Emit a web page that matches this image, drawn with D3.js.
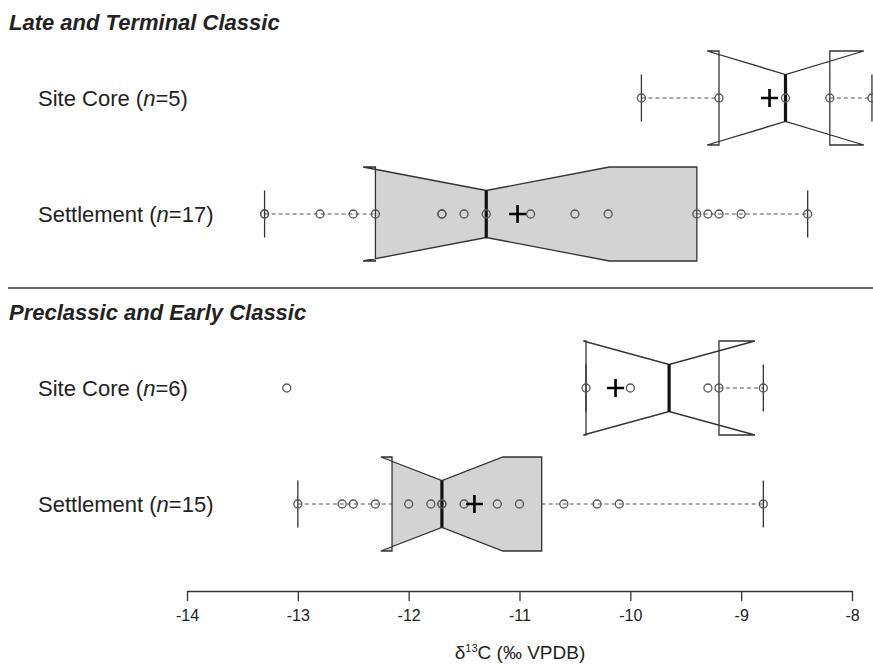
<!DOCTYPE html>
<html>
<head>
<meta charset="utf-8">
<script src="https://cdn.jsdelivr.net/npm/d3@7"></script>
<style>
  body { margin: 0; background: #fff; }
  text { font-family: "Liberation Sans", Arial, sans-serif; fill: #222; }
</style>
</head>
<body>
<div id="chart"></div>
<script>
// data (d13C, permil VPDB)
var groupTitles = ["Late and Terminal Classic", "Preclassic and Early Classic"];
var rowNames = ["Site Core", "Settlement"];
var ltcCore = [-9.9, -9.2, -8.6, -8.2, -7.82];
var ltcSettlement = [-13.3, -13.3, -12.8, -12.5, -12.3, -11.7, -11.7, -11.5, -11.3,
                     -10.9, -10.5, -10.2, -9.4, -9.3, -9.2, -9.0, -8.4];
var pceCore = [-13.1, -10.4, -10.0, -9.3, -9.2, -8.8];
var pceSettlement = [-13.0, -12.6, -12.5, -12.3, -12.0, -11.8, -11.7, -11.7, -11.5,
                     -11.2, -11.0, -10.6, -10.3, -10.1, -8.8];
var xTicks = [-14, -13, -12, -11, -10, -9, -8];

var groupData = [[ltcCore, ltcSettlement], [pceCore, pceSettlement]];

//set up SVG
var svgWidth = 873;
var svgHeight = 664;

var svg = d3.select("#chart")
    .append("svg")
    .attr("width", svgWidth)
    .attr("height", svgHeight);

var xScale = d3.scaleLinear().domain([-14, -8]).range([187, 852]);
// row slots: two rows per group, a gap between the groups
var yScale = d3.scaleLinear().domain([0, 3.5]).range([98, 504]);
var boxHalf = 47;

// R style fivenum + notch + whiskers
function boxStats(vals) {
    var s = vals.slice().sort(d3.ascending);
    var n = s.length;
    var n4 = Math.floor((n + 3) / 2) / 2;
    var idx = [1, n4, (n + 1) / 2, n + 1 - n4, n];
    var fn = idx.map(function (d) {
        return 0.5 * (s[Math.floor(d) - 1] + s[Math.ceil(d) - 1]);
    });
    var iqr = fn[3] - fn[1];
    var lo = fn[1] - 1.5 * iqr, hi = fn[3] + 1.5 * iqr;
    var inside = s.filter(function (d) { return d >= lo && d <= hi; });
    return {
        q1: fn[1], med: fn[2], q3: fn[3],
        wlo: d3.min(inside), whi: d3.max(inside),
        c1: fn[2] - 1.58 * iqr / Math.sqrt(n),
        c2: fn[2] + 1.58 * iqr / Math.sqrt(n),
        mean: d3.mean(s), n: n
    };
}

var rows = [];
groupData.forEach(function (g, gi) {
    g.forEach(function (vals, ri) {
        rows.push({ name: rowNames[ri], vals: vals, slot: gi * 2.5 + ri,
                    filled: ri === 1, st: boxStats(vals) });
    });
});

// group titles and divider
svg.selectAll(".gtitle")
    .data(groupTitles)
    .enter()
    .append("text")
    .attr("x", 9)
    .attr("y", function (d, i) { return i === 0 ? 30 : 320; })
    .style("font-size", "22px")
    .style("font-weight", "bold")
    .style("font-style", "italic")
    .text(function (d) { return d; });

svg.append("line")
    .attr("x1", 8).attr("x2", 873)
    .attr("y1", 288).attr("y2", 288)
    .attr("stroke", "#333").attr("stroke-width", 1.6);

var rowG = svg.selectAll(".row")
    .data(rows)
    .enter()
    .append("g")
    .attr("transform", function (d) { return "translate(0," + yScale(d.slot) + ")"; });

// row labels
var lab = rowG.append("text")
    .attr("x", 38)
    .attr("dy", "0.35em")
    .style("font-size", "22px");
lab.append("tspan").text(function (d) { return d.name + " ("; });
lab.append("tspan").style("font-style", "italic").text("n");
lab.append("tspan").text(function (d) { return "=" + d.vals.length + ")"; });

// whiskers
rowG.append("line")
    .attr("x1", function (d) { return xScale(d.st.wlo); })
    .attr("x2", function (d) { return xScale(d.st.q1); })
    .attr("stroke", "#555").attr("stroke-dasharray", "4,3");
rowG.append("line")
    .attr("x1", function (d) { return xScale(d.st.q3); })
    .attr("x2", function (d) { return xScale(d.st.whi); })
    .attr("stroke", "#555").attr("stroke-dasharray", "4,3");
["wlo", "whi"].forEach(function (k) {
    rowG.append("line")
        .attr("x1", function (d) { return xScale(d.st[k]); })
        .attr("x2", function (d) { return xScale(d.st[k]); })
        .attr("y1", -boxHalf / 2).attr("y2", boxHalf / 2)
        .attr("stroke", "#333").attr("stroke-width", 1.3);
});

// notched box polygon, same vertex order R uses
rowG.append("polygon")
    .attr("points", function (d) {
        var s = d.st, w = boxHalf, wn = boxHalf / 2;
        var pts = [[s.q1, -w], [s.c1, -w], [s.med, -wn], [s.c2, -w], [s.q3, -w],
                   [s.q3, w], [s.c2, w], [s.med, wn], [s.c1, w], [s.q1, w]];
        return pts.map(function (p) { return xScale(p[0]) + "," + p[1]; }).join(" ");
    })
    .attr("fill", function (d) { return d.filled ? "#d3d3d3" : "none"; })
    .attr("stroke", "#333")
    .attr("stroke-width", 1.3)
    .attr("stroke-linejoin", "miter");

// median
rowG.append("line")
    .attr("x1", function (d) { return xScale(d.st.med); })
    .attr("x2", function (d) { return xScale(d.st.med); })
    .attr("y1", -boxHalf / 2).attr("y2", boxHalf / 2)
    .attr("stroke", "#111").attr("stroke-width", 3.2);

// individual points
rowG.selectAll("circle")
    .data(function (d) { return d.vals; })
    .enter()
    .append("circle")
    .attr("cx", function (v) { return xScale(v); })
    .attr("cy", 0)
    .attr("r", 4)
    .attr("fill", "none")
    .attr("stroke", "#555")
    .attr("stroke-width", 1.3);

// mean marker
rowG.append("path")
    .attr("d", function (d) {
        var x = xScale(d.st.mean);
        return "M" + (x - 8.5) + ",0H" + (x + 8.5) + "M" + x + ",-9V9";
    })
    .attr("stroke", "#000")
    .attr("stroke-width", 2.6);

// x axis
var axisY = 591;
var xAxis = d3.axisBottom(xScale)
    .tickValues(xTicks)
    .tickSize(10)
    .tickSizeOuter(0)
    .tickFormat(function (d) { return "-" + Math.abs(d); });
var axG = svg.append("g")
    .attr("transform", "translate(0," + axisY + ")")
    .call(xAxis);
axG.select(".domain").attr("stroke", "#333").attr("stroke-width", 1.3);
axG.selectAll(".tick line").attr("stroke", "#333").attr("stroke-width", 1.3);
axG.selectAll(".tick text")
    .attr("y", 19)
    .style("font-family", "'Liberation Sans', Arial, sans-serif")
    .style("font-size", "16px")
    .attr("fill", "#222");

var title = svg.append("text")
    .attr("x", 520)
    .attr("y", 659)
    .attr("text-anchor", "middle")
    .style("font-size", "19px");
title.append("tspan").text("δ");
title.append("tspan").attr("dy", -7).style("font-size", "11px").text("13");
title.append("tspan").attr("dy", 7).text("C (‰ VPDB)");
</script>
</body>
</html>
